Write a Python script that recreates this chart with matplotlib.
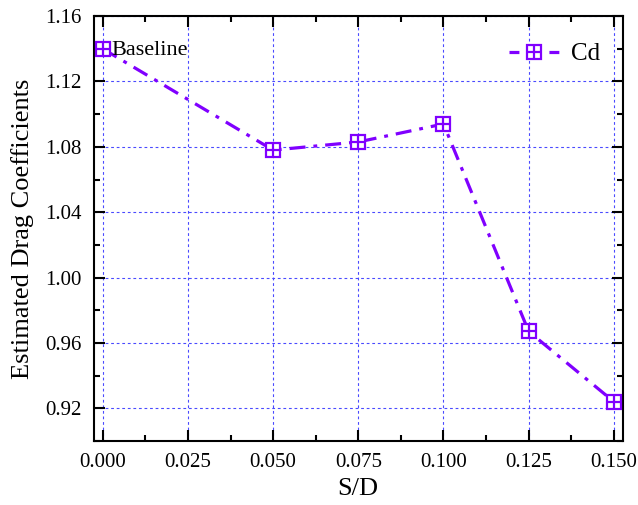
import matplotlib.pyplot as plt
from matplotlib.legend_handler import HandlerTuple
from matplotlib.lines import Line2D
import numpy as np

# S/D ratio vs estimated drag coefficient
sd = [0.000, 0.050, 0.075, 0.100, 0.125, 0.150]
cd = [1.140, 1.078, 1.083, 1.094, 0.967, 0.924]
xticks = [0.000, 0.025, 0.050, 0.075, 0.100, 0.125, 0.150]
yticks = [0.92, 0.96, 1.00, 1.04, 1.08, 1.12, 1.16]

plt.rcParams['font.family'] = 'Liberation Serif'

fig = plt.figure(figsize=(6.38, 5.05), dpi=100)
ax = fig.add_axes([0.147, 0.127, 0.829, 0.841])

col = '#8000FF'
ax.plot(sd, cd, color=col, linestyle=(0, (5, 2.5, 1.2, 2.5)), linewidth=2.3,
        marker='s', markersize=10, markerfacecolor='white', markeredgewidth=1.6,
        markeredgecolor=col, zorder=3)
ax.plot(sd, cd, color=col, linestyle='none', marker='+', markersize=10,
        markeredgewidth=1.6, zorder=4)

ax.text(0.0025, 1.1392, 'Baseline', fontsize=16, va='center', ha='left')

ax.set_xlim(-0.00265, 0.1526)
ax.set_ylim(0.90, 1.16)
ax.set_xticks(xticks)
ax.set_yticks(yticks)
ax.set_xticklabels([f'{v:.3f}' for v in xticks])
ax.set_yticklabels([f'{v:.2f}' for v in yticks])
ax.set_xticks(np.array(xticks[:-1]) + 0.0125, minor=True)
ax.set_yticks([0.90, 0.94, 0.98, 1.02, 1.06, 1.10, 1.14], minor=True)
ax.tick_params(which='both', direction='in', top=True, right=True, labelsize=15, width=1.5)
ax.tick_params(which='major', length=8)
ax.tick_params(which='minor', length=4)
ax.tick_params(axis='x', pad=9)
ax.tick_params(axis='y', pad=9)
for s in ax.spines.values():
    s.set_linewidth(1.5)

ax.grid(True, which='major', color='#4a4aff', linestyle=(0, (2.5, 2.5)), linewidth=0.8)

ax.set_xlabel('S/D', fontsize=19, labelpad=4)
ax.set_ylabel('Estimated Drag Coefficients', fontsize=19, labelpad=8)

# legend handle: short dashes either side of the marker
h_line = Line2D([], [], color=col, linewidth=2.3, linestyle=(0, (3.1, 9.4)))
h_sq = Line2D([], [], color=col, linestyle='none', marker='s', markersize=10,
              markerfacecolor='white', markeredgewidth=1.6)
h_plus = Line2D([], [], color=col, linestyle='none', marker='+', markersize=10,
                markeredgewidth=1.6)
ax.legend([(h_line, h_sq, h_plus)], ['Cd'], handler_map={tuple: HandlerTuple(ndivide=1)},
          loc='upper right', frameon=False, fontsize=18, handlelength=2.0,
          handletextpad=0.5, bbox_to_anchor=(1.0, 0.99))

fig.savefig('out.png', dpi=100)
